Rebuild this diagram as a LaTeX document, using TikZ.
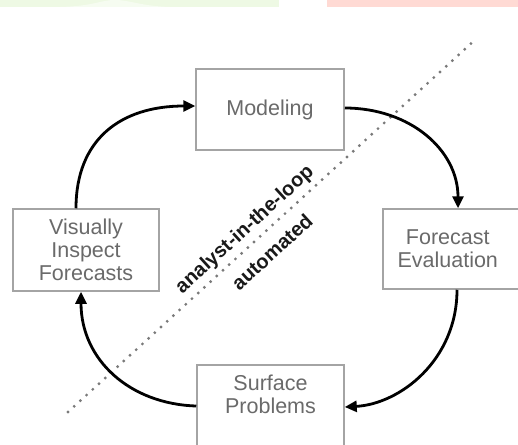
\documentclass[tikz,border=0pt]{standalone}
\usepackage{fontspec}
\setmainfont{Liberation Sans}
\usetikzlibrary{arrows.meta}
\definecolor{boxline}{HTML}{A4A4A4}
\definecolor{boxtext}{HTML}{6A6A6A}
\definecolor{topgreen}{HTML}{EEF9E4}
\definecolor{topgreenlight}{HTML}{F6FCF1}
\definecolor{toppink}{HTML}{FFDAD4}
\definecolor{dotgray}{HTML}{7A7A7A}
\begin{document}
\begin{tikzpicture}[x=1pt,y=-1pt,
  stagebox/.style={draw=boxline,line width=1.5pt,fill=white,text=boxtext,
    font=\fontsize{21.5}{23}\selectfont,align=center,inner sep=0pt},
  flow/.style={line width=2.8pt,-{Triangle[length=12pt,width=11pt]}},
  sidelabel/.style={font=\bfseries\fontsize{20}{21}\selectfont,rotate=42.4,text=black!90}]
\useasboundingbox (0,0) rectangle (518,444);
\clip (0,0) rectangle (518,444);
% top colour bars
\fill[topgreen] (0,0) rectangle (279,7);
\fill[topgreenlight] (60,7) .. controls (95,6) and (100,0) .. (115,0) .. controls (130,0) and (140,6) .. (170,7) -- cycle;
\fill[toppink] (327,0) rectangle (518,7);
% dividing dotted line
\coordinate (dA) at (68,412);
\coordinate (dB) at (476,39);
\draw[dotgray,line width=3.2pt,line cap=round,dash pattern=on 0pt off 8.4pt] (dA) -- (dB);
% boxes
\node[stagebox,minimum width=148pt,minimum height=81pt] (model) at (270,109.5) {\raisebox{-3pt}{Modeling}};
\node[stagebox,minimum width=146pt,minimum height=82pt] (visual) at (86,250) {Visually\\Inspect\\Forecasts};
\node[stagebox,minimum width=140pt,minimum height=80pt,anchor=west] (evalb) at (382,249) {\hspace*{-10pt}Forecast\\\hspace*{-10pt}Evaluation};
\node[stagebox,minimum width=147pt,minimum height=90pt,anchor=north] (surf) at (270.5,364) {Surface\\Problems\\[8pt]};
% labels
\node[sidelabel] (analyst) at (245,230) {analyst-in-the-loop};
\node[sidelabel] (auto) at (272,252) {automated};
% flow arrows
\draw[flow] (visual.north -| 76,0) .. controls (76,140) and (120,106) .. (model.west |- 0,106);
\draw[flow] (model.east |- 0,108) .. controls (410,108) and (458,150) .. (evalb.north -| 458,0);
\draw[flow] (evalb.south -| 457,0) .. controls (457,360) and (400,404) .. (surf.east |- 0,407);
\draw[flow] (surf.west |- 0,406) .. controls (130,404) and (81,360) .. (visual.south -| 81,0);
\end{tikzpicture}
\end{document}
